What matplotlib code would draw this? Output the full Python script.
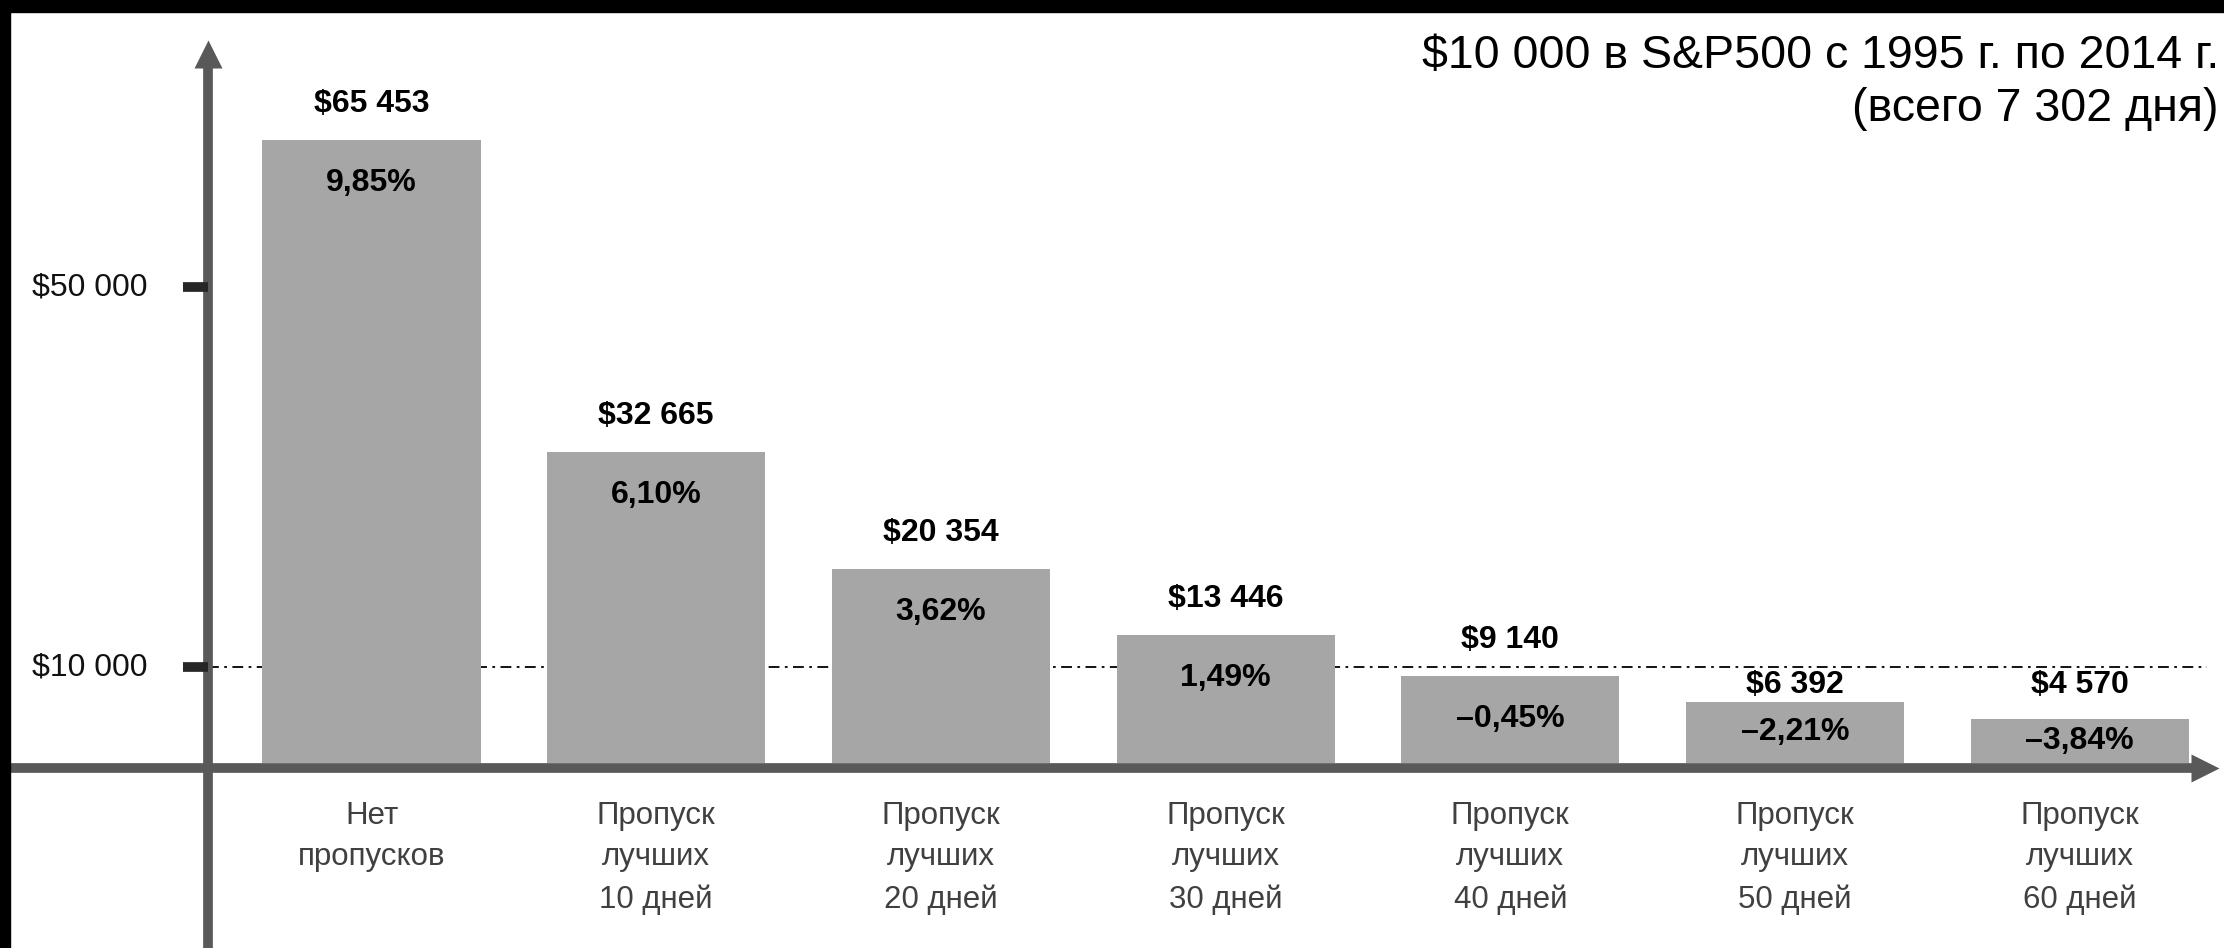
import matplotlib
matplotlib.use("Agg")
import matplotlib.pyplot as plt
import matplotlib.transforms as mtransforms
from matplotlib.patches import Rectangle

plt.rcParams["text.parse_math"] = False
plt.rcParams["font.family"] = ["Liberation Sans", "DejaVu Sans"]

# data
categories = [
    "Нет\nпропусков",
    "Пропуск\nлучших\n10 дней",
    "Пропуск\nлучших\n20 дней",
    "Пропуск\nлучших\n30 дней",
    "Пропуск\nлучших\n40 дней",
    "Пропуск\nлучших\n50 дней",
    "Пропуск\nлучших\n60 дней",
]
final_values = [65453, 32665, 20354, 13446, 9140, 6392, 4570]
annual_returns = [9.85, 6.10, 3.62, 1.49, -0.45, -2.21, -3.84]
ytick_values = [50000, 10000]
baseline_value = 10000
title_lines = ["$10 000 в S&P500 с 1995 г. по 2014 г.", "(всего 7 302 дня)"]


def money(v):
    return "$" + f"{v:,}".replace(",", " ")


def pct(r):
    s = f"{abs(r):.2f}".replace(".", ",") + "%"
    return ("–" if r < 0 else "") + s


W, H = 2224, 948
fig = plt.figure(figsize=(W / 100, H / 100), dpi=100)
ax = fig.add_axes([0, 0, 1, 1])
ax.axis("off")

# pixel layout -> data limits
x0_px, step_px = 371.5, 284.7
zero_px, per_unit = 762.5, 9.51 / 1000
ax.set_xlim(-x0_px / step_px, (W - x0_px) / step_px)
ax.set_ylim(-(H - zero_px) / per_unit, zero_px / per_unit)


def px_to_val(py):
    return (zero_px - py) / per_unit


bar_color = "#a6a6a6"
axis_color = "#595959"

xs = list(range(len(final_values)))
ax.bar(xs, final_values, width=0.766, color=bar_color, zorder=2)

# reference line at $10 000
bx = mtransforms.blended_transform_factory(ax.transAxes, ax.transData)
ax.plot([208 / W, 2207 / W], [baseline_value, baseline_value], transform=bx,
        color="black", lw=1.3, ls=(0, (6, 3, 1.5, 3)), zorder=1)

# axes with arrows
ax_y = 208 / W
ax_x_val = -0.5 * 10 / per_unit
ax.plot([ax_y, ax_y], [ax.get_ylim()[0], px_to_val(54)],
        transform=bx, color=axis_color, lw=7, solid_capstyle="butt", zorder=3)
ax.plot([ax_y], [px_to_val(54)], transform=bx, marker="^",
        ms=20, color=axis_color, mec="none", zorder=3)
ax.plot([11 / W, 2205 / W], [ax_x_val, ax_x_val], transform=bx,
        color=axis_color, lw=7, solid_capstyle="butt", zorder=3)
ax.plot([2205 / W], [ax_x_val], transform=bx, marker=">",
        ms=20, color=axis_color, mec="none", zorder=3)

# y ticks
for v in ytick_values:
    ax.plot([183 / W, ax_y], [v, v], transform=bx, color="#262626",
            lw=7, solid_capstyle="butt", zorder=3)
    ax.text(147 / W, v, money(v), transform=bx, ha="right", va="center",
            fontsize=23, color="#111111")

# bar labels
px = 1 / per_unit  # one pixel in data units
for x, v, r in zip(xs, final_values, annual_returns):
    label_y = v + 36 * px
    if abs(label_y - baseline_value) < 20 * px:
        label_y = baseline_value - 18 * px
    ax.text(x, label_y, money(v), ha="center", va="center", fontsize=23,
            fontweight="bold", color="black", zorder=4)
    pct_y = max(v - 43 * px, v / 2)
    ax.text(x, pct_y, pct(r), ha="center", va="center", fontsize=23,
            fontweight="bold", color="black", zorder=4)

# category labels
for x, c in zip(xs, categories):
    ax.text(x, px_to_val(801), c, ha="center", va="top",
            fontsize=22.5, color="#404040", linespacing=1.5)

fig.text(2219 / W, 1 - 68 / H, title_lines[0], ha="right", va="baseline",
         fontsize=33.5, color="black")
fig.text(2219 / W, 1 - 121 / H, title_lines[1], ha="right", va="baseline",
         fontsize=33.5, color="black")

# black frame edges
fig.patches.append(Rectangle((0, 1 - 12 / H), 1, 12 / H, transform=fig.transFigure,
                             color="black", zorder=10))
fig.patches.append(Rectangle((0, 0), 10 / W, 1, transform=fig.transFigure,
                             color="black", zorder=10))

fig.savefig("out.png", dpi=100)
